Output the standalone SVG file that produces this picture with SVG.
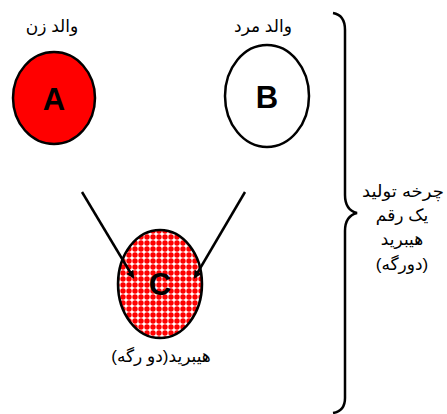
<svg xmlns="http://www.w3.org/2000/svg" width="447" height="414" viewBox="0 0 447 414">
<style>
.node{stroke:#000;stroke-width:2.5}
.letter{font-family:"Liberation Sans",Arial,sans-serif;font-weight:bold;font-size:31px;text-anchor:middle;fill:#000}
.lbl{font-family:"Liberation Sans","DejaVu Sans",sans-serif;font-size:17px;text-anchor:middle;fill:#000}
.side{font-family:"Liberation Sans","DejaVu Sans",sans-serif;font-size:17px;text-anchor:middle;fill:#000}
.conn{stroke:#000;stroke-width:2.5;fill:none}
</style>
<defs>
<pattern id="dots" width="6" height="6" patternUnits="userSpaceOnUse">
<rect width="6" height="6" fill="#fff"/>
<circle cx="3" cy="3" r="2.7" fill="#f00"/>
</pattern>
<marker id="arr" markerWidth="8" markerHeight="8" refX="6" refY="4" orient="auto" markerUnits="userSpaceOnUse">
<path d="M0,0 L8,4 L0,8 Z" fill="#000"/>
</marker>
</defs>
<rect width="447" height="414" fill="#fff"/>
<g id="nodeA">
<text class="lbl" x="52" y="32">والد زن</text>
<ellipse class="node" cx="54" cy="98" rx="41" ry="46" fill="#f00"/>
<text class="letter" x="54" y="110">A</text>
</g>
<g id="nodeB">
<text class="lbl" x="263" y="32">والد مرد</text>
<ellipse class="node" cx="267" cy="96" rx="42" ry="51" fill="#fff"/>
<text class="letter" x="267" y="108">B</text>
</g>
<g id="nodeC">
<ellipse class="node" cx="160" cy="284" rx="42" ry="54" fill="url(#dots)"/>
<text class="letter" x="160" y="295">C</text>
<text class="lbl" x="161" y="362">هیبرید(دو رگه)</text>
</g>
<g id="connectors">
<line class="conn" x1="82" y1="192" x2="133" y2="277" marker-end="url(#arr)"/>
<line class="conn" x1="245" y1="192" x2="195" y2="277" marker-end="url(#arr)"/>
</g>
<g id="brace">
<path class="conn" d="M333,13 Q345,15 345,30 L345,195 Q345,210 357,213 Q345,216 345,231 L345,398 Q345,411 333,413"/>
<text class="side" x="403" y="197" textLength="82" lengthAdjust="spacingAndGlyphs">چرخه تولید</text>
<text class="side" x="402" y="221">یک رقم</text>
<text class="side" x="402" y="245">هیبرید</text>
<text class="side" x="402" y="270">(دورگه)</text>
</g>
</svg>
